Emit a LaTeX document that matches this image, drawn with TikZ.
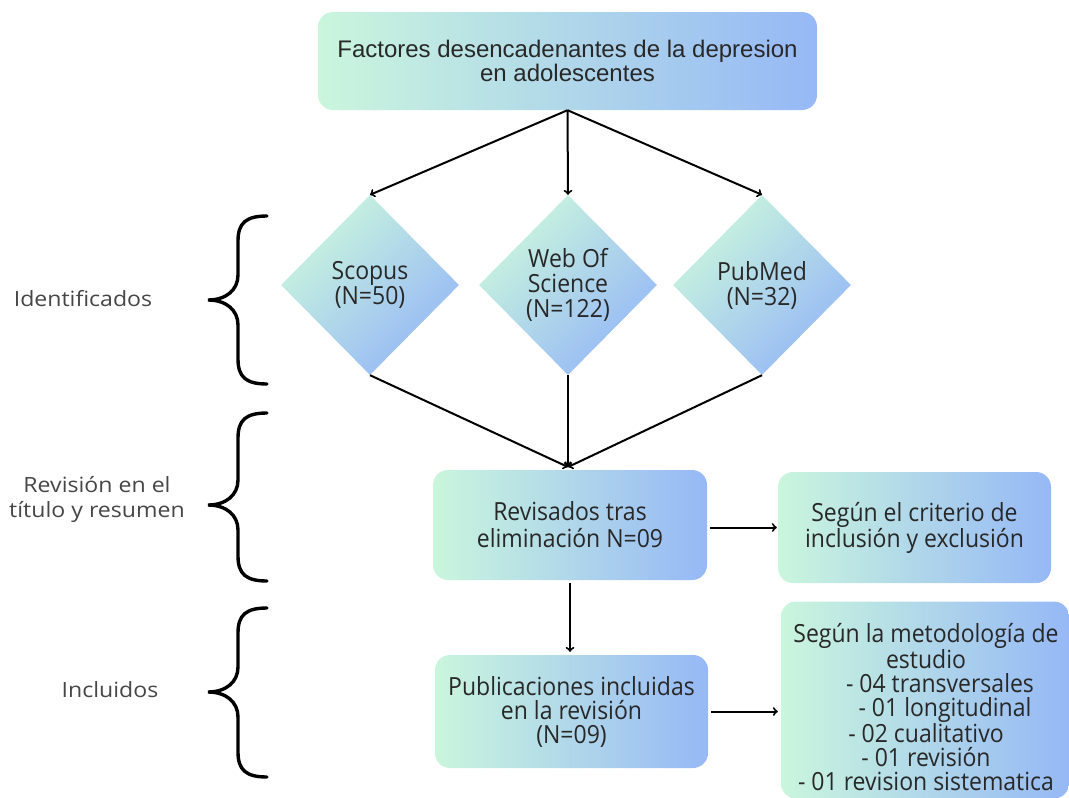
\documentclass[tikz,border=0pt]{standalone}
\usepackage{fontspec}
\setmainfont{Open Sans}
\newfontfamily\titlefont{Liberation Sans}
\newfontfamily\boxfont{Open Sans}[FakeStretch=0.92]
\newfontfamily\sidefont{Open Sans}[FakeStretch=1.1]
\usetikzlibrary{shapes.geometric}
\definecolor{gradgreen}{RGB}{202,246,221}
\definecolor{gradblue}{RGB}{150,184,246}
\definecolor{txtgray}{RGB}{40,40,40}
\definecolor{sidegray}{RGB}{70,70,70}

\begin{document}
\begin{tikzpicture}[x=1pt,y=1pt,yscale=-1,xscale=1,
  gradbox/.style={rectangle,rounded corners=15pt,left color=gradgreen,right color=gradblue,draw=none,inner sep=0pt,align=center,text=txtgray},
  graddiamond/.style={diamond,top color=gradgreen,bottom color=gradblue,shading angle=45,draw=none,inner sep=0pt,align=center,text=txtgray},
  arr/.style={->,line width=2pt,>=to},
  brace/.style={line width=3.4pt,line cap=round},
  sidetext/.style={font=\sidefont\fontsize{21}{25}\selectfont,text=sidegray,align=center}]
\useasboundingbox (0,0) rectangle (1069,798);

%Title box
\node [gradbox,minimum width=499pt,minimum height=98pt,font=\titlefont\fontsize{24}{24}\selectfont] (title) at (567.5,61) {Factores desencadenantes de la depresion\\en adolescentes};

%Databases
\node [graddiamond,minimum width=178pt,minimum height=180pt,font=\boxfont\fontsize{25}{25}\selectfont] (scopus) at (370,285) {Scopus\\ (N=50)};
\node [graddiamond,minimum width=178pt,minimum height=180pt,font=\boxfont\fontsize{25}{25}\selectfont] (wos) at (568,285) {Web Of\\Science\\(N=122)};
\node [graddiamond,minimum width=178pt,minimum height=180pt,font=\boxfont\fontsize{25}{25}\selectfont] (pubmed) at (762,285) {PubMed\\(N=32)};

%Boxes
\node [gradbox,minimum width=274pt,minimum height=110pt,font=\boxfont\fontsize{25}{27}\selectfont] (rev) at (570,525) {Revisados tras\\eliminación N=09};
\node [gradbox,minimum width=273pt,minimum height=111pt,font=\boxfont\fontsize{25}{26}\selectfont] (crit) at (914.5,527.5) {Según el criterio de\\inclusión y exclusión};
\node [gradbox,minimum width=273pt,minimum height=113pt,font=\boxfont\fontsize{25}{24}\selectfont] (pub) at (571.5,711.5) {Publicaciones incluidas\\en la revisión\\(N=09)};
\node [gradbox,minimum width=288pt,minimum height=197pt] (met) at (925,700) {};
\node [font=\boxfont\fontsize{25}{24}\selectfont,align=center,text=txtgray,inner sep=0pt] (metlist) at (926,707) {Según la metodología de\\estudio\\\hspace*{28pt}- 04 transversales\\\hspace*{38pt}- 01 longitudinal\\- 02 cualitativo\\- 01 revisión\\- 01 revision sistematica};

%Arrows
\draw [arr] (title.south) -- (scopus.north);
\draw [arr] (title.south) -- (wos.north);
\draw [arr] (title.south) -- (pubmed.north);
\coordinate (meet) at (568,467);
\draw [arr] (scopus.south) -- (meet);
\draw [arr] (wos.south) -- (meet);
\draw [arr] (pubmed.south) -- (meet);
\draw [arr,shorten <=3pt,shorten >=1pt] (rev.east |- crit.west) -- (crit.west);
\draw [arr,shorten <=3pt,shorten >=3pt] (rev.south) -- (rev.south |- pub.north);
\draw [arr,shorten <=3pt,shorten >=3pt] (pub.east) -- (pub.east -| met.west);

%Braces
\foreach \ya/\ym/\yb/\nm in {216/300/384/b1,413/505/581/b2,608/692/777/b3}{
  \draw [brace] (267,\ya) .. controls (246,\ya) and (238,\ya+7) .. (238,\ya+25) -- (238,\ym-25) .. controls (238,\ym-10) and (226,\ym) .. (208,\ym) coordinate (\nm) .. controls (226,\ym) and (238,\ym+10) .. (238,\ym+25) -- (238,\yb-25) .. controls (238,\yb-7) and (246,\yb) .. (267,\yb);
}

% Text Node
\node [sidetext] (ident) at (83,299) {Identificados};
% Text Node
\node [sidetext] (revis) at (97,499) {Revisión en el\\título y resumen};
% Text Node
\node [sidetext] (incl) at (110,690) {Incluidos};
\end{tikzpicture}
\end{document}
